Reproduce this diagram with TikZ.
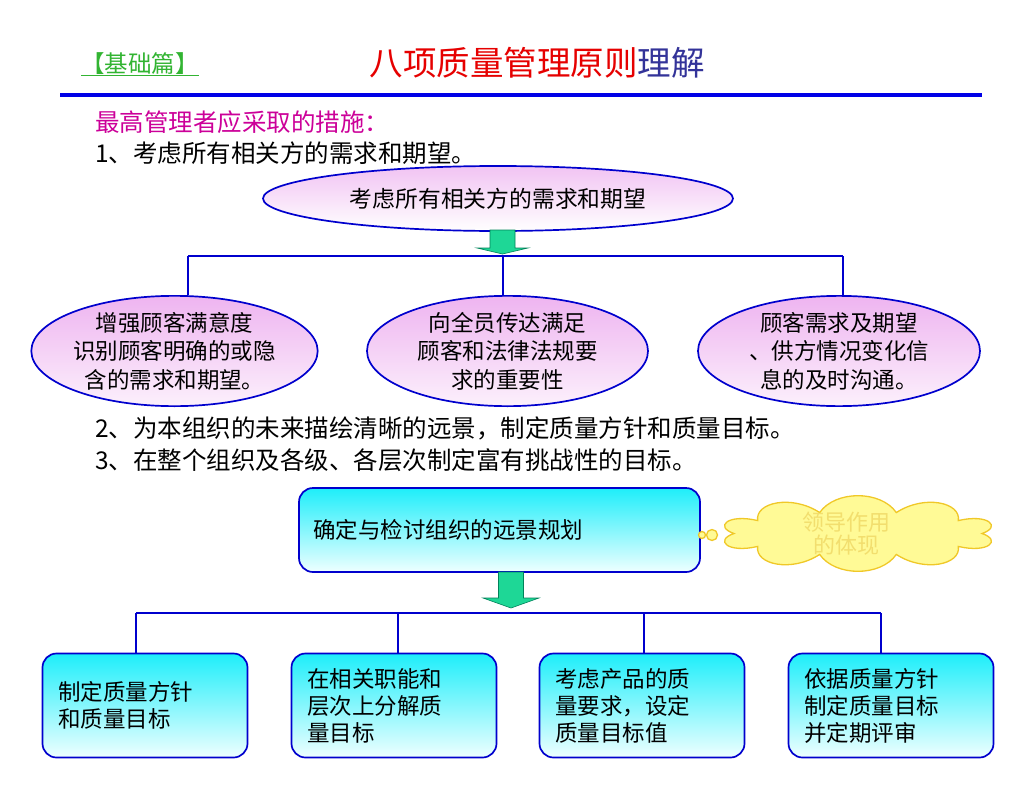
\documentclass[tikz,border=0pt]{standalone}
\usepackage{fontspec}
\setmainfont{Noto Sans CJK SC}
\usetikzlibrary{calc,shapes.geometric}
\definecolor{titlered}{RGB}{230,0,0}
\definecolor{titleblue}{RGB}{51,51,153}
\definecolor{labelgreen}{RGB}{50,180,50}
\definecolor{headmagenta}{RGB}{204,0,153}
\definecolor{ruleblue}{RGB}{0,0,230}
\definecolor{lineblue}{RGB}{0,0,205}
\definecolor{pinktop}{RGB}{238,180,240}
\definecolor{pinkbot}{RGB}{252,240,252}
\definecolor{cyantop}{RGB}{30,238,250}
\definecolor{cyanbot}{RGB}{238,255,255}
\definecolor{arrowgreen}{RGB}{30,215,150}
\definecolor{arrowedge}{RGB}{0,130,90}
\definecolor{cloudfill}{RGB}{255,250,150}
\definecolor{cloudedge}{RGB}{240,200,40}
\definecolor{cloudtext}{RGB}{242,222,110}
\def\fatarrow(#1)(#2:#3:#4)(#5:#6){\draw[fatarrow] (#1-#5,#2) -- (#1+#5,#2) -- (#1+#5,#3) -- (#1+#6,#3) -- (#1,#4) -- (#1-#6,#3) -- (#1-#5,#3) -- cycle;}
\tikzset{
	pinkoval/.style={ellipse, draw=lineblue, line width=1.7pt, top color=pinktop, bottom color=pinkbot, inner sep=0pt, align=center, font=\fontsize{22.5}{28.5}\selectfont},
	cyanbox/.style={rectangle, rounded corners=14pt, draw=lineblue, line width=1.7pt, top color=cyantop, bottom color=cyanbot, inner ysep=0pt, inner xsep=15.5pt, text width=174pt, minimum height=104pt, align=left, font=\fontsize{22.5}{27}\selectfont},
	bus/.style={draw=lineblue, line width=1.8pt},
	fatarrow/.style={fill=arrowgreen, draw=arrowedge, line width=0.6pt},
	textline/.style={anchor=west, inner sep=0pt, font=\fontsize{24.5}{28}\selectfont},
	cloudline/.style={draw=cloudedge, fill=cloudfill, line width=1.3pt}
}
\begin{document}
\begin{tikzpicture}[x=1pt,y=-1pt]
		%%%%% START %%%%%
		\fill[white] (0,0) rectangle (1023,803);
		\useasboundingbox (0,0) rectangle (1023,803);
		
		\node[inner sep=0pt, text=labelgreen, font=\fontsize{23.5}{26}\selectfont] (part) at (140,64) {【基础篇】};
		\draw[labelgreen, line width=1.2pt] (part.south west) -- (part.south east);
		\node[inner sep=0pt, font=\fontsize{33.5}{36}\selectfont] (title) at (537,63) {\color{titlered}八项质量管理原则\color{titleblue}理解};
		\draw[ruleblue, line width=4pt] (60,95) -- (982,95);
		
		\node[textline, text=headmagenta] (head) at (95,122) {最高管理者应采取的措施：};
		\node[textline] (item1) at (95,153) {1、考虑所有相关方的需求和期望。};
		
		\node[pinkoval, top color=pinktop!80, bottom color=white, minimum width=470pt, minimum height=65pt, font=\fontsize{22.8}{26}\selectfont] (need) at (498,198.5) {考虑所有相关方的需求和期望};
		\fatarrow(502.5)(230:248:254)(12.5:25.5)
		
		\coordinate (b1) at (188,256);
		\coordinate (b2) at (503,256);
		\coordinate (b3) at (843,256);
		\node[pinkoval, minimum width=283pt, minimum height=104pt] (e1) at (174.5,351) {增强顾客满意度\\识别顾客明确的或隐\\含的需求和期望。};
		\node[pinkoval, minimum width=281pt, minimum height=104pt] (e2) at (507.5,351) {向全员传达满足\\顾客和法律法规要\\求的重要性};
		\node[pinkoval, minimum width=282pt, minimum height=104pt] (e3) at (839,351) {顾客需求及期望\\、供方情况变化信\\息的及时沟通。};
		\draw[bus] (b1) -- (b3);
		\draw[bus] (b1) -- (b1 |- e1.north);
		\draw[bus] (b2) -- (b2 |- e2.north);
		\draw[bus] (b3) -- (b3 |- e3.north);
		
		\node[textline] (item2) at (95,428) {2、为本组织的未来描绘清晰的远景，制定质量方针和质量目标。};
		\node[textline] (item3) at (95,460) {3、在整个组织及各级、各层次制定富有挑战性的目标。};
		
		\node[cyanbox, inner xsep=14pt, text width=373pt, minimum height=84pt] (plan) at (499.5,530) {确定与检讨组织的远景规划};
		\draw[cloudline] (702,535) circle (3.5);
		\draw[cloudline] (712,535) circle (5.5);
		\draw[cloudline] ({858+124*cos(0)},{533.5+22*sin(0)})
			\foreach \a in {0,36,...,324} {
				.. controls ({858+124*cos(\a+9)+22*cos(\a+9)},{533.5+22*sin(\a+9)+22*sin(\a+9)})
				and ({858+124*cos(\a+27)+22*cos(\a+27)},{533.5+22*sin(\a+27)+22*sin(\a+27)})
				.. ({858+124*cos(\a+36)},{533.5+22*sin(\a+36)})
			} -- cycle;
		\node[inner sep=0pt, align=center, text=cloudtext, font=\fontsize{22}{23}\selectfont] (lead) at (846.5,533.5) {领导作用\\的体现};
		\fatarrow(511)(572:598:608)(12.5:28)
		
		\coordinate (c1) at (136,613);
		\coordinate (c2) at (398,613);
		\coordinate (c3) at (644,613);
		\coordinate (c4) at (881,613);
		\node[cyanbox] (r1) at (145,705.5) {制定质量方针\\和质量目标};
		\node[cyanbox] (r2) at (394,705.5) {在相关职能和\\层次上分解质\\量目标};
		\node[cyanbox] (r3) at (642,705.5) {考虑产品的质\\量要求，设定\\质量目标值};
		\node[cyanbox] (r4) at (891,705.5) {依据质量方针\\制定质量目标\\并定期评审};
		\draw[bus] (c1) -- (c4);
		\draw[bus] (c1) -- (c1 |- r1.north);
		\draw[bus] (c2) -- (c2 |- r2.north);
		\draw[bus] (c3) -- (c3 |- r3.north);
		\draw[bus] (c4) -- (c4 |- r4.north);
		
		%%%%% END %%%%%
\end{tikzpicture}
\end{document}
